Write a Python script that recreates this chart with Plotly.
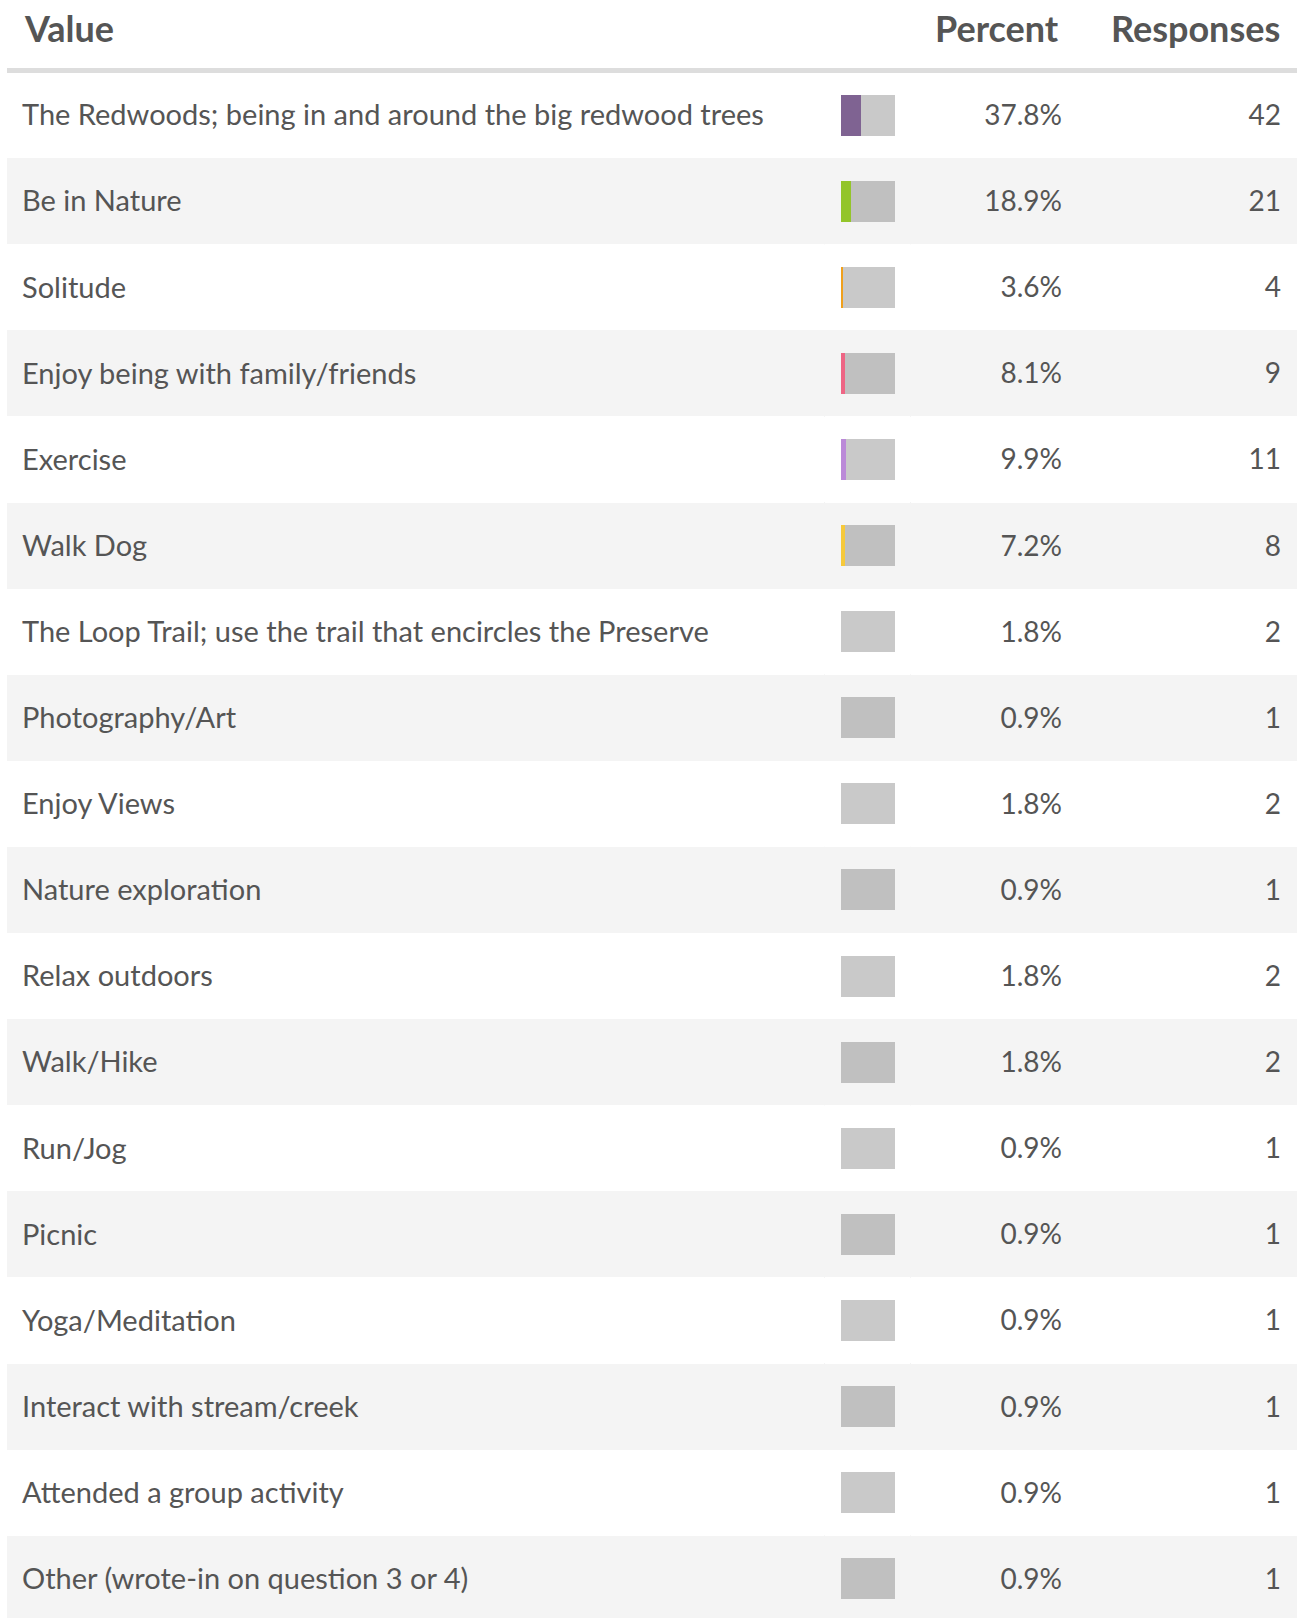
import plotly.graph_objects as go

labels = [
    "The Redwoods; being in and around the big redwood trees",
    "Be in Nature",
    "Solitude",
    "Enjoy being with family/friends",
    "Exercise",
    "Walk Dog",
    "The Loop Trail; use the trail that encircles the Preserve",
    "Photography/Art",
    "Enjoy Views",
    "Nature exploration",
    "Relax outdoors",
    "Walk/Hike",
    "Run/Jog",
    "Picnic",
    "Yoga/Meditation",
    "Interact with stream/creek",
    "Attended a group activity",
    "Other (wrote-in on question 3 or 4)",
]
percents = [37.8, 18.9, 3.6, 8.1, 9.9, 7.2, 1.8, 0.9, 1.8, 0.9, 1.8, 1.8, 0.9, 0.9, 0.9, 0.9, 0.9, 0.9]
responses = [42, 21, 4, 9, 11, 8, 2, 1, 2, 1, 2, 2, 1, 1, 1, 1, 1, 1]
bar_colors = ["#7f6392", "#93c52a", "#f0a01c", "#ee6584", "#bb8ad8", "#f6c93b"] + ["rgba(0,0,0,0)"] * 12
headers = ["Value", "Percent", "Responses"]

W, H = 1297, 1618
ROW_H = 86.1
TOP = 72
y_top = -0.5 - TOP / ROW_H
y_bot = y_top + H / ROW_H

n = len(labels)
idx = list(range(n))
TEXT = "#555555"
FONT = "Lato"
TXT_DY = 0.035

BAR_X0, BAR_W = 841, 54
BAR_H = 41 / ROW_H

fig = go.Figure()

shaded = [i for i in idx if i % 2 == 1]
fig.add_trace(go.Bar(orientation="h", y=shaded, x=[W - 7] * len(shaded), base=7,
                     width=1.0, marker=dict(color="#f4f4f4", line=dict(width=0)),
                     hoverinfo="skip", showlegend=False))

fig.add_trace(go.Bar(orientation="h", y=idx, x=[BAR_W] * n, base=BAR_X0, width=BAR_H,
                     marker=dict(color="rgba(0,0,0,0.21)", line=dict(width=0)),
                     hoverinfo="skip", showlegend=False))
fig.add_trace(go.Bar(orientation="h", y=idx, x=[p / 100 * BAR_W for p in percents],
                     base=BAR_X0, width=BAR_H,
                     marker=dict(color=bar_colors, line=dict(width=0)),
                     hoverinfo="skip", showlegend=False))

ty = [i + TXT_DY for i in idx]
fig.add_trace(go.Scatter(x=[22] * n, y=ty, mode="text", text=labels,
                         textposition="middle right",
                         textfont=dict(family=FONT, size=29, color=TEXT),
                         hoverinfo="skip", showlegend=False))
fig.add_trace(go.Scatter(x=[1062] * n, y=ty, mode="text",
                         text=[f"{p:.1f}%" for p in percents],
                         textposition="middle left",
                         textfont=dict(family=FONT, size=28, color=TEXT),
                         hoverinfo="skip", showlegend=False))
fig.add_trace(go.Scatter(x=[1281] * n, y=ty, mode="text",
                         text=[str(r) for r in responses],
                         textposition="middle left",
                         textfont=dict(family=FONT, size=28, color=TEXT),
                         hoverinfo="skip", showlegend=False))

shapes = []
hy = y_top + 70.5 / ROW_H
shapes.append(dict(type="line", xref="x", yref="y", x0=7, x1=W, y0=hy, y1=hy,
                   line=dict(color="#dddddd", width=5), layer="above"))
for i in shaded:
    for xd in (824.5, 910.5):
        shapes.append(dict(type="line", xref="x", yref="y", x0=xd, x1=xd,
                           y0=i - 0.5, y1=i + 0.5,
                           line=dict(color="#e6e6e6", width=1), layer="below"))

hdr_y = y_top + 28 / ROW_H
annotations = [
    dict(x=23, y=hdr_y, text=f"<b>{headers[0]}</b>", xanchor="left", yanchor="middle"),
    dict(x=1060, y=hdr_y, text=f"<b>{headers[1]}</b>", xanchor="right", yanchor="middle"),
    dict(x=1281, y=hdr_y, text=f"<b>{headers[2]}</b>", xanchor="right", yanchor="middle"),
]
for a in annotations:
    a.update(xref="x", yref="y", showarrow=False,
             font=dict(family=FONT, size=36, color=TEXT), borderpad=0)

fig.update_layout(
    width=W, height=H,
    margin=dict(l=0, r=0, t=0, b=0),
    paper_bgcolor="white", plot_bgcolor="white",
    barmode="overlay", bargap=0,
    shapes=shapes, annotations=annotations,
    xaxis=dict(range=[0, W], visible=False, fixedrange=True),
    yaxis=dict(range=[y_bot, y_top], visible=False, fixedrange=True),
    font=dict(family=FONT),
)

fig.write_html("out.html", config={"displayModeBar": False},
               post_script="document.body.style.margin='0';document.body.style.overflow='hidden';")
